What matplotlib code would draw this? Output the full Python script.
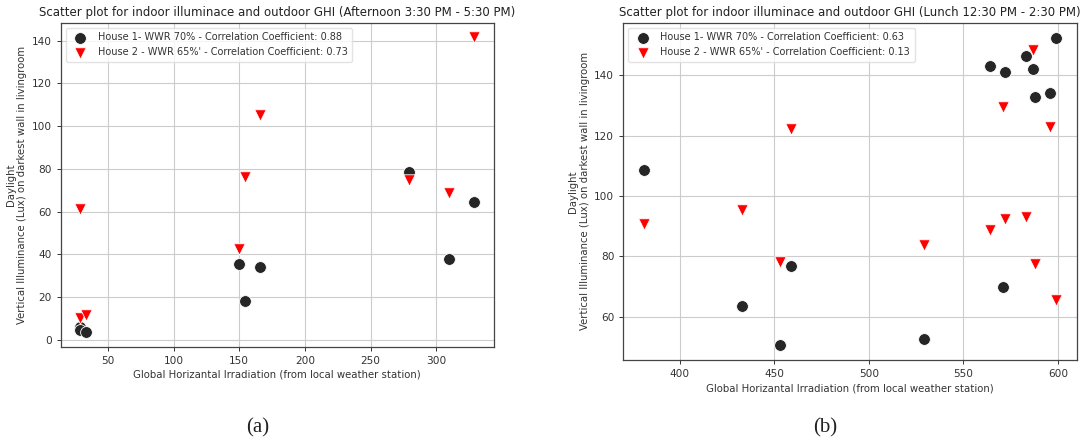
import matplotlib
matplotlib.use("Agg")
import matplotlib.pyplot as plt

# Afternoon (a)
ghi_a = [29, 29, 33, 149.5, 154.5, 166, 279, 310, 329]
h1_a = [6, 4.5, 3.6, 35.6, 18.3, 34.1, 78.4, 38, 64.5]
ghi2_a = [29, 29, 33, 149.5, 154, 166, 279, 310, 329]
h2_a = [61, 10, 11.5, 42.6, 76, 105, 74.6, 68.7, 141.5]

# Lunch (b)
ghi_b = [381, 433, 453, 459, 529, 564, 571, 572, 583, 587, 588, 596, 599]
h1_b = [108.7, 63.5, 50.8, 76.9, 52.6, 143.2, 70, 140.9, 146.4, 141.9, 132.8, 134.1, 152.3]
ghi2_b = [381, 433, 453, 459, 529, 564, 571, 572, 583, 587, 588, 596, 599]
h2_b = [90.6, 95.5, 78.2, 122.1, 83.8, 88.6, 129.4, 92.5, 93.2, 148.5, 77.5, 122.9, 65.6]

titles = ["Scatter plot for indoor illuminace and outdoor GHI (Afternoon 3:30 PM - 5:30 PM)",
          "Scatter plot for indoor illuminace and outdoor GHI (Lunch 12:30 PM - 2:30 PM)"]
labels1 = ["House 1- WWR 70% - Correlation Coefficient: 0.88",
           "House 1- WWR 70% - Correlation Coefficient: 0.63"]
labels2 = ["House 2 - WWR 65%' - Correlation Coefficient: 0.73",
           "House 2 - WWR 65%' - Correlation Coefficient: 0.13"]
xlabel = "Global Horizantal Irradiation (from local weather station)"
ylabel = "Daylight\nVertical Illuminance (Lux) on darkest wall in livingroom"
yticks_a = [0, 20, 40, 60, 80, 100, 120, 140]
xticks_a = [50, 100, 150, 200, 250, 300]
yticks_b = [60, 80, 100, 120, 140]
xticks_b = [400, 450, 500, 550, 600]

fig = plt.figure(figsize=(10.92, 4.44), dpi=100)
ax1 = fig.add_axes([0.0556, 0.2191, 0.3968, 0.7297])
ax2 = fig.add_axes([0.5708, 0.1892, 0.4152, 0.7597])

data = [(ax1, ghi_a, h1_a, ghi2_a, h2_a, xticks_a, yticks_a),
        (ax2, ghi_b, h1_b, ghi2_b, h2_b, xticks_b, yticks_b)]

for i, (ax, x1, y1, x2, y2, xt, yt) in enumerate(data):
    ax.scatter(x1, y1, s=72, marker='o', color='#262626', edgecolors='white',
               linewidths=0.6, label=labels1[i], zorder=3)
    ax.scatter(x2, y2, s=68, marker='v', color='red', edgecolors='white',
               linewidths=0.6, label=labels2[i], zorder=3)
    ax.set_xticks(xt)
    ax.set_yticks(yt)
    ax.grid(True, color='#cccccc', linewidth=0.8)
    ax.set_axisbelow(True)
    ax.tick_params(labelsize=7.6, colors='#333333', length=3, width=0.7)
    for sp in ax.spines.values():
        sp.set_color('#444444')
        sp.set_linewidth(0.9)
    ax.set_title(titles[i], fontsize=8.5, color='#222222', pad=5)
    ax.set_xlabel(xlabel, fontsize=7.3, color='#333333', labelpad=3)
    ax.set_ylabel(ylabel, fontsize=7.3, color='#333333', labelpad=3)
    leg = ax.legend(loc='upper left', fontsize=7.0, frameon=True, borderpad=0.5,
                    handletextpad=0.8, labelspacing=0.5)
    leg.get_frame().set_edgecolor('#dddddd')
    for t in leg.get_texts():
        t.set_color('#333333')

fig.text(258/1092, 1-428/444, "(a)", fontsize=15, family='Liberation Serif',
         ha='center', va='center', color='#222222')
fig.text(825/1092, 1-428/444, "(b)", fontsize=15, family='Liberation Serif',
         ha='center', va='center', color='#222222')

fig.savefig("out.png", dpi=100)
